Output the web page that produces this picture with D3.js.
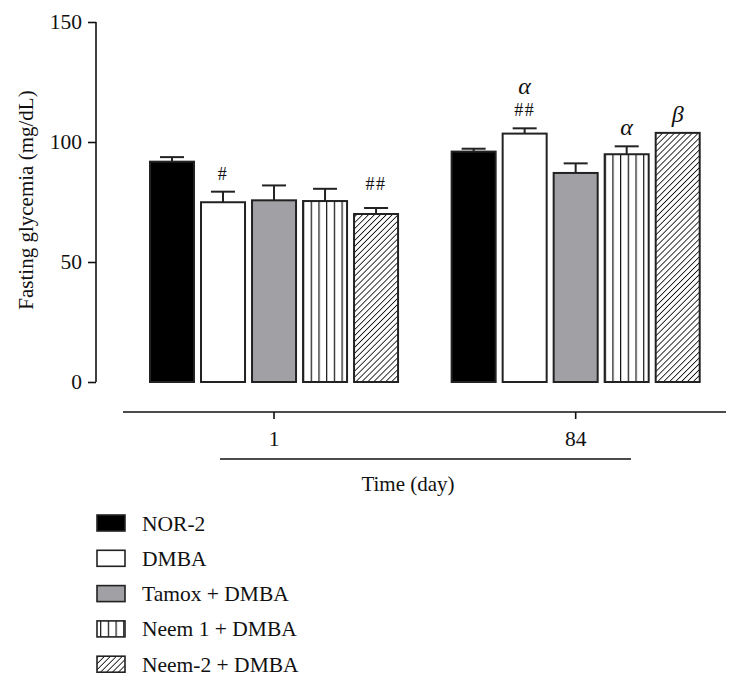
<!DOCTYPE html>
<html>
<head>
<meta charset="utf-8">
<script src="https://cdn.jsdelivr.net/npm/d3@7"></script>
<style>
  html, body { margin: 0; padding: 0; background: #fff; }
  svg { display: block; }
  text { font-family: "Liberation Serif", "Times New Roman", serif; fill: #111; }
</style>
</head>
<body>
<svg id="chart" width="740" height="687"></svg>
<script>
// ---- data ----
const days = ["1", "84"];
const series = ["NOR-2", "DMBA", "Tamox + DMBA", "Neem 1 + DMBA", "Neem-2 + DMBA"];
const meanDay1 = [91.8, 74.9, 75.7, 75.4, 70.0];
const semDay1 = [1.9, 4.4, 6.2, 5.1, 2.5];
const meanDay84 = [96.0, 103.5, 87.1, 94.9, 103.8];
const semDay84 = [1.2, 2.2, 4.0, 3.3, 0];
const marksDay1 = [[], ["#"], [], [], ["##"]];
const marksDay84 = [[], ["##", "α"], [], ["α"], ["β"]];
const yTicks = [0, 50, 100, 150];
const yLabel = "Fasting glycemia (mg/dL)";
const xLabel = "Time (day)";

const means = [meanDay1, meanDay84];
const sems = [semDay1, semDay84];
const marks = [marksDay1, marksDay84];

// ---- layout ----
const svg = d3.select("#chart");
const defs = svg.append("defs");

const vp = defs.append("pattern").attr("id", "vlines").attr("patternUnits", "userSpaceOnUse")
  .attr("width", 7.7).attr("height", 10);
vp.append("rect").attr("width", 7.7).attr("height", 10).attr("fill", "#fff");
vp.append("line").attr("x1", 0).attr("x2", 0).attr("y1", 0).attr("y2", 10)
  .attr("stroke", "#111").attr("stroke-width", 2.4);

const hp = defs.append("pattern").attr("id", "hatch").attr("patternUnits", "userSpaceOnUse")
  .attr("width", 4.2).attr("height", 4.2).attr("patternTransform", "rotate(45)");
hp.append("rect").attr("width", 4.2).attr("height", 4.2).attr("fill", "#fff");
hp.append("line").attr("x1", 0).attr("x2", 0).attr("y1", 0).attr("y2", 4.2)
  .attr("stroke", "#111").attr("stroke-width", 1.7);

const fills = ["#000", "#fff", "#a1a0a5", "url(#vlines)", "url(#hatch)"];

const y = d3.scaleLinear().domain([0, 150]).range([382, 22]);
const x0 = d3.scaleBand().domain(days).range([149, 700.7]).paddingInner(0.171).paddingOuter(0);
const x1 = d3.scaleBand().domain(series).range([0, x0.bandwidth()]).paddingInner(5 / 51).paddingOuter(0);

// y axis
const yAxis = svg.append("g").attr("transform", "translate(96,0)")
  .call(d3.axisLeft(y).tickValues(yTicks).tickSize(8).tickPadding(6));
yAxis.selectAll("path, line").attr("stroke", "#111").attr("stroke-width", 1.6);
yAxis.select(".domain").attr("d", `M0,${y(150)}V${y(0)}`);
yAxis.selectAll("text").attr("font-size", 21.5).attr("font-family", "Liberation Serif").attr("fill", "#111");

svg.append("text").attr("transform", "translate(33,200) rotate(-90)")
  .attr("text-anchor", "middle").attr("font-size", 21).text(yLabel);

// bars
days.forEach((day, gi) => {
  const g = svg.append("g").attr("transform", `translate(${x0(day)},0)`);
  series.forEach((s, si) => {
    const v = means[gi][si], e = sems[gi][si];
    const bx = x1(s), bw = x1.bandwidth();
    const cx = bx + bw / 2;
    if (e > 0) {
      g.append("line").attr("x1", cx).attr("x2", cx).attr("y1", y(v)).attr("y2", y(v + e))
        .attr("stroke", "#222").attr("stroke-width", 2);
      g.append("line").attr("x1", cx - 12).attr("x2", cx + 12).attr("y1", y(v + e)).attr("y2", y(v + e))
        .attr("stroke", "#222").attr("stroke-width", 2);
    }
    g.append("rect").attr("x", bx + 1).attr("y", y(v)).attr("width", bw - 2).attr("height", y(0) - y(v))
      .attr("fill", fills[si]).attr("stroke", "#222").attr("stroke-width", 2);
    // annotations
    const top = y(v + e);
    marks[gi][si].forEach((m, mi) => {
      const isGreek = (m === "α" || m === "β");
      const t = g.append("text").attr("x", cx).attr("text-anchor", "middle").text(m);
      if (isGreek) {
        t.attr("font-size", 24).attr("font-style", "italic");
        t.attr("y", top - 11 - mi * 23);
      } else {
        t.attr("font-size", 18).attr("letter-spacing", 1.5);
        t.attr("y", top - (m === "##" && gi === 0 ? 18 : 12));
      }
    });
  });
});

// x axis
svg.append("line").attr("x1", 123).attr("x2", 726).attr("y1", 412).attr("y2", 412)
  .attr("stroke", "#111").attr("stroke-width", 1.6);
const xAxis = svg.append("g").attr("transform", "translate(0,412)")
  .call(d3.axisBottom(x0).tickSize(7).tickPadding(12));
xAxis.select(".domain").remove();
xAxis.selectAll("line").attr("stroke", "#111").attr("stroke-width", 1.6);
xAxis.selectAll("text").attr("font-size", 21.5).attr("font-family", "Liberation Serif").attr("fill", "#111");

svg.append("line").attr("x1", 220).attr("x2", 631).attr("y1", 459).attr("y2", 459)
  .attr("stroke", "#111").attr("stroke-width", 1.4);
svg.append("text").attr("x", 408).attr("y", 491).attr("text-anchor", "middle")
  .attr("font-size", 21).text(xLabel);

// legend
const leg = svg.append("g");
series.forEach((s, i) => {
  const cy = 523 + i * 35.3;
  leg.append("rect").attr("x", 97).attr("y", cy - 8).attr("width", 28).attr("height", 16)
    .attr("fill", fills[i]).attr("stroke", "#222").attr("stroke-width", 1.6);
  leg.append("text").attr("x", 142).attr("y", cy + 7.5).attr("font-size", 21.5).text(s);
});
</script>
</body>
</html>
